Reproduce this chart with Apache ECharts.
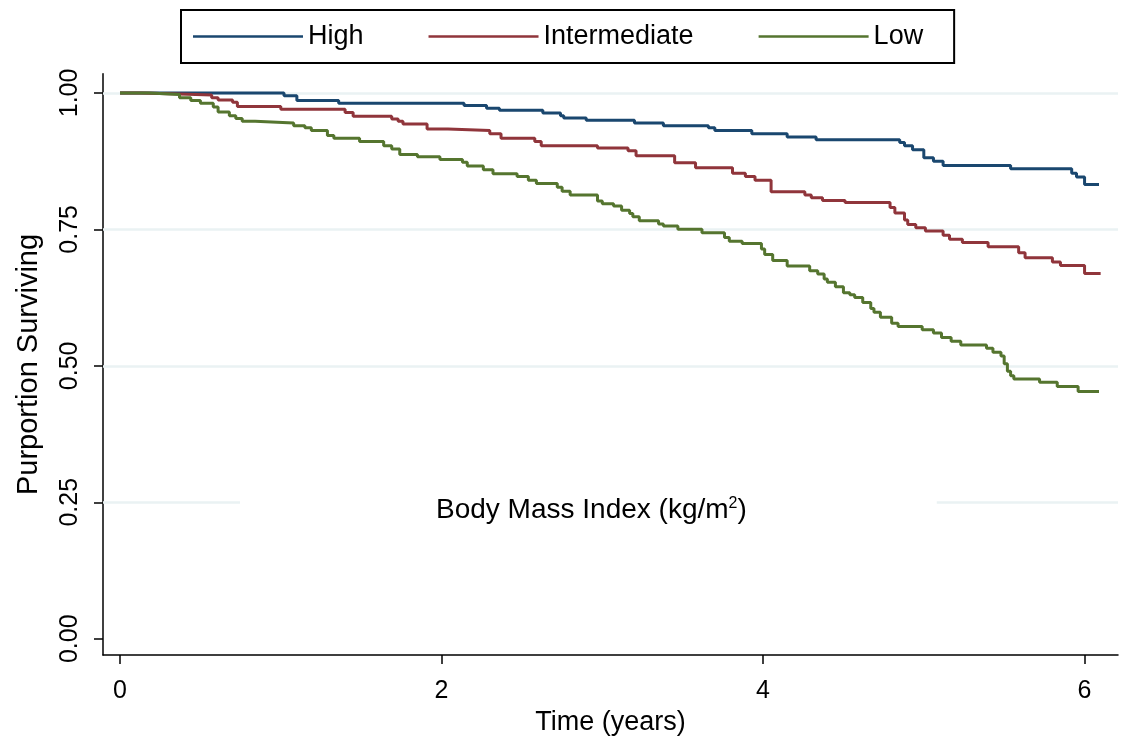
<!DOCTYPE html>
<html>
<head>
<meta charset="utf-8">
<script src="https://cdn.jsdelivr.net/npm/echarts@6/dist/echarts.min.js"></script>
<style>
  html, body { margin: 0; padding: 0; background: #fff; }
  #app { width: 1121px; height: 741px; }
</style>
</head>
<body>
<div id="app"></div>
<script>
// Kaplan-Meier steps: time (years) and proportion surviving
var highTime = [0, 1.02, 1.10, 1.36, 2.14, 2.28, 2.36, 2.63, 2.74, 2.76, 2.90, 3.20, 3.38, 3.66, 3.70, 3.93, 4.15, 4.33, 4.85, 4.88, 4.93, 5.00, 5.06, 5.12, 5.54, 5.92, 5.95, 6.00, 6.09];
var highSurv = [1, 0.995, 0.986, 0.981, 0.977, 0.972, 0.968, 0.963, 0.958, 0.954, 0.950, 0.945, 0.940, 0.936, 0.931, 0.925, 0.919, 0.914, 0.909, 0.903, 0.896, 0.881, 0.875, 0.867, 0.861, 0.853, 0.846, 0.832, 0.832];

var midTime = [0, 0.13, 0.37, 0.57, 0.61, 0.70, 0.73, 1.00, 1.40, 1.45, 1.69, 1.73, 1.76, 1.91, 2.04, 2.30, 2.37, 2.58, 2.62, 2.97, 3.16, 3.21, 3.45, 3.58, 3.81, 3.89, 3.95, 4.05, 4.26, 4.30, 4.37, 4.51, 4.79, 4.82, 4.88, 4.90, 4.95, 5.01, 5.12, 5.16, 5.24, 5.40, 5.59, 5.63, 5.80, 5.85, 6.00, 6.10];
var midSurv = [1, 0.998, 0.996, 0.991, 0.987, 0.983, 0.975, 0.970, 0.964, 0.957, 0.952, 0.948, 0.943, 0.934, 0.931, 0.925, 0.917, 0.911, 0.903, 0.899, 0.894, 0.885, 0.872, 0.863, 0.853, 0.847, 0.840, 0.819, 0.813, 0.808, 0.803, 0.799, 0.790, 0.780, 0.767, 0.759, 0.753, 0.747, 0.739, 0.732, 0.726, 0.718, 0.707, 0.698, 0.690, 0.684, 0.669, 0.669];

var lowTime = [0, 0.18, 0.37, 0.44, 0.50, 0.58, 0.61, 0.68, 0.72, 0.76, 0.84, 1.08, 1.15, 1.19, 1.29, 1.33, 1.49, 1.64, 1.69, 1.74, 1.85, 1.99, 2.13, 2.16, 2.26, 2.32, 2.47, 2.54, 2.59, 2.72, 2.75, 2.80, 2.97, 3.00, 3.07, 3.12, 3.17, 3.19, 3.23, 3.35, 3.38, 3.47, 3.62, 3.76, 3.79, 3.87, 3.99, 4.01, 4.06, 4.15, 4.29, 4.34, 4.38, 4.40, 4.45, 4.50, 4.54, 4.57, 4.62, 4.67, 4.69, 4.73, 4.80, 4.84, 4.99, 5.06, 5.11, 5.17, 5.23, 5.39, 5.43, 5.48, 5.50, 5.52, 5.54, 5.56, 5.72, 5.83, 5.96, 6.09];
var lowSurv = [1, 0.997, 0.991, 0.986, 0.981, 0.974, 0.965, 0.958, 0.953, 0.948, 0.945, 0.940, 0.936, 0.931, 0.922, 0.917, 0.911, 0.903, 0.897, 0.887, 0.883, 0.878, 0.873, 0.866, 0.859, 0.852, 0.847, 0.840, 0.834, 0.827, 0.820, 0.813, 0.802, 0.797, 0.793, 0.785, 0.779, 0.773, 0.766, 0.760, 0.756, 0.750, 0.744, 0.735, 0.728, 0.724, 0.714, 0.704, 0.693, 0.683, 0.674, 0.668, 0.659, 0.653, 0.645, 0.634, 0.630, 0.625, 0.616, 0.605, 0.598, 0.589, 0.578, 0.572, 0.566, 0.560, 0.552, 0.545, 0.538, 0.532, 0.525, 0.518, 0.504, 0.490, 0.482, 0.476, 0.470, 0.462, 0.453, 0.453];

var groups = ['High', 'Intermediate', 'Low'];
var colors = ['#1a476f', '#90353b', '#55752f'];
var xTicks = [0, 2, 4, 6];
var yTicks = [0, 0.25, 0.5, 0.75, 1];
var gridVals = [0.25, 0.5, 0.75, 1];

function pairs(t, s) {
    return t.map(function (v, i) { return [v, s[i]]; });
}

var font = 'Liberation Sans, Arial, sans-serif';
var myChart = echarts.init(document.getElementById('app'));

var option = {
    backgroundColor: '#fff',
    animation: false,
    textStyle: { fontFamily: font },
    title: {
        text: 'Body Mass Index (kg/m{sup|2})',
        left: 240,
        top: 490,
        padding: [6, 190, 6, 196],
        backgroundColor: '#fff',
        textStyle: {
            fontSize: 28, fontWeight: 'normal', color: '#000', fontFamily: font,
            rich: {
                sup: { fontSize: 16, verticalAlign: 'top', padding: [0, 0, 12, 0], color: '#000', fontFamily: font }
            }
        }
    },
    legend: {
        data: groups,
        left: 181,
        top: 10,
        padding: [13, 31, 13, 12],
        borderColor: '#000',
        borderWidth: 2,
        icon: 'rect',
        itemWidth: 110,
        itemHeight: 2.5,
        itemGap: 65,
        textStyle: { fontSize: 27, color: '#000', fontFamily: font }
    },
    grid: { left: 103, right: 3, top: 73.8, bottom: 83.6 },
    xAxis: {
        type: 'value',
        min: -0.106,
        max: 6.208,
        name: 'Time (years)',
        nameLocation: 'middle',
        nameGap: 50,
        nameTextStyle: { fontSize: 27, color: '#000', fontFamily: font },
        axisLine: { onZero: false, lineStyle: { color: '#000', width: 1.5 } },
        axisTick: { show: true, length: 9, customValues: xTicks, lineStyle: { color: '#000', width: 1.5 } },
        axisLabel: { customValues: xTicks, margin: 24, fontSize: 25, color: '#000', fontFamily: font },
        splitLine: { show: false }
    },
    yAxis: {
        type: 'value',
        min: -0.03,
        max: 1.035,
        name: 'Purportion Surviving',
        nameLocation: 'middle',
        nameGap: 60,
        nameRotate: 90,
        nameTextStyle: { fontSize: 29, color: '#000', fontFamily: font },
        axisLine: { show: true, onZero: false, lineStyle: { color: '#000', width: 1.5 } },
        axisTick: { show: true, length: 9, customValues: yTicks, lineStyle: { color: '#000', width: 1.5 } },
        axisLabel: {
            customValues: yTicks,
            rotate: 90,
            margin: 20,
            fontSize: 25,
            color: '#000',
            fontFamily: font,
            formatter: function (v) { return v.toFixed(2); }
        },
        splitLine: { show: false }
    },
    series: [
        {
            name: 'High', type: 'line', step: 'end', symbol: 'none', z: 3,
            lineStyle: { color: colors[0], width: 3 }, itemStyle: { color: colors[0] },
            data: pairs(highTime, highSurv),
            // light horizontal grid lines, kept under the curves
            markLine: {
                silent: true,
                z: 1,
                symbol: 'none',
                label: { show: false },
                lineStyle: { color: '#eaf2f3', width: 2.5, type: 'solid' },
                data: gridVals.map(function (v) { return { yAxis: v }; })
            }
        },
        {
            name: 'Intermediate', type: 'line', step: 'end', symbol: 'none', z: 4,
            lineStyle: { color: colors[1], width: 3 }, itemStyle: { color: colors[1] },
            data: pairs(midTime, midSurv)
        },
        {
            name: 'Low', type: 'line', step: 'end', symbol: 'none', z: 5,
            lineStyle: { color: colors[2], width: 3 }, itemStyle: { color: colors[2] },
            data: pairs(lowTime, lowSurv)
        }
    ]
};
myChart.setOption(option);
</script>
</body>
</html>
